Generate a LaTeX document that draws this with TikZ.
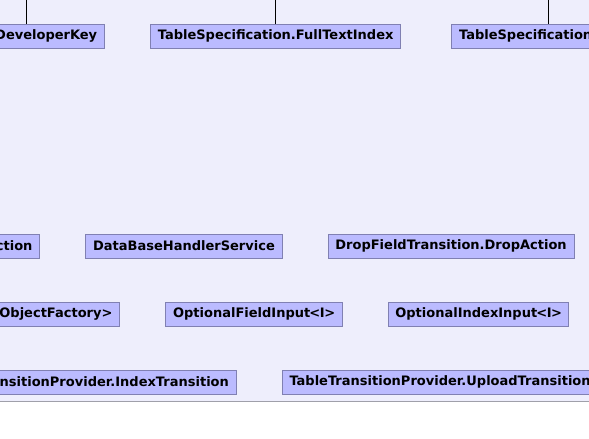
\documentclass[tikz,border=0pt]{standalone}
\usepackage{fontspec}
\setmainfont{DejaVu Sans}
\usepackage{tikz}
\usetikzlibrary{positioning}

\definecolor{canvas}{RGB}{238,238,252}
\definecolor{clsfill}{RGB}{187,187,255}
\definecolor{clsline}{RGB}{128,128,178}
\definecolor{rulegray}{RGB}{160,160,170}

\newcommand{\gen}[1]{\kern-1pt<\kern-0.4pt#1\kern-0.4pt>\kern-0.4pt}

\begin{document}
\begin{tikzpicture}[
        x=1pt, y=-1pt,
        cls/.style={draw=clsline, fill=clsfill, line width=1pt, inner xsep=7.3pt, inner ysep=0pt,
            minimum height=24pt, font=\bfseries\fontsize{13}{15}\selectfont},
        cutl/.style={cls, align=right, text width=#1},
        cutr/.style={cls, align=left, text width=#1},
        link/.style={line width=1pt}
    ]
        \useasboundingbox (0,0) rectangle (589,439);
        \clip (0,0) rectangle (589,439);
        \fill[canvas] (0,0) rectangle (589,401);
        \draw[rulegray, line width=1pt] (0,401) -- (589,401);

        % Nodes
        \node[cutl=141.4pt, anchor=east] (devkey) at (105,36) {DeveloperKey};
        \node[cls, right=45pt of devkey] (fulltext) {TableSpecification.FullTextIndex};
        \node[cutr=179.4pt, right=50pt of fulltext] (tablespec) {TableSpecification};

        \node[cutl=60pt, anchor=east] (action) at (40.3,246) {ction};
        \node[cls, right=45pt of action] (dbhandler) {DataBaseHandlerService};
        \node[cls, right=45pt of dbhandler] (dropaction) {DropFieldTransition.DropAction};

        \node[cutl=140pt, anchor=east] (factory) at (120.3,314) {ObjectFactory>};
        \node[cls, right=45pt of factory] (fieldinput) {OptionalFieldInput\gen{I}};
        \node[cls, right=45pt of fieldinput] (indexinput) {OptionalIndexInput\gen{I}};

        \node[cutl=260pt, anchor=east] (indextrans) at (236.7,382) {nsitionProvider.IndexTransition};
        \node[cls, right=45pt of indextrans] (uploadtrans) {TableTransitionProvider.UploadTransition};

        % Lines
        \coordinate[above=40pt of devkey.north] (devkeyup);
        \coordinate[above=40pt of fulltext.north] (fulltextup);
        \coordinate[above=40pt of tablespec.north] (tablespecup);
        \draw[link] (devkeyup) -- (devkey);
        \draw[link] (fulltextup) -- (fulltext);
        \draw[link] (tablespecup) -- (tablespec);
    \end{tikzpicture}
\end{document}
